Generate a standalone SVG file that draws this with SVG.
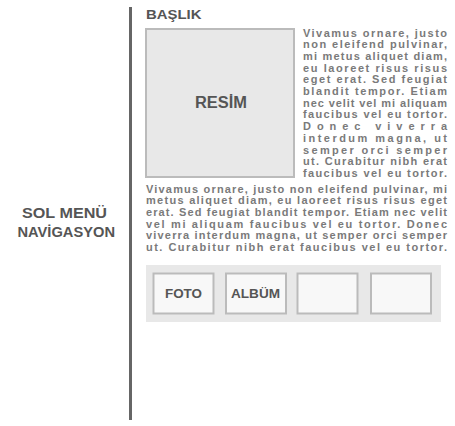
<svg xmlns="http://www.w3.org/2000/svg" width="455" height="426" viewBox="0 0 455 426">
<style>
.t{font-family:"Liberation Sans",Arial,sans-serif;font-weight:bold;fill:#555}
.b{font-family:"Liberation Sans",Arial,sans-serif;font-weight:bold;font-size:11px;fill:#7a7a7a}
.box{fill:#e8e8e8;stroke:#bbb;stroke-width:2}
.th{fill:#f8f8f8;stroke:#bbb;stroke-width:2}
</style>
<rect width="455" height="426" fill="#fff"/>
<g id="nav">
<text class="t" font-size="14" x="22" y="218" textLength="85" lengthAdjust="spacingAndGlyphs">SOL MENÜ</text>
<text class="t" font-size="14" x="17.5" y="237" textLength="97.5" lengthAdjust="spacingAndGlyphs">NAVİGASYON</text>
</g>
<g id="divider"><rect x="129" y="7" width="3" height="413" fill="#666"/></g>
<g id="title"><text class="t" font-size="13" x="146" y="19" textLength="55.5" lengthAdjust="spacingAndGlyphs">BAŞLIK</text></g>
<g id="image">
<rect class="box" x="146" y="29" width="148" height="148"/>
<text class="t" font-size="16" x="195" y="108" textLength="52" lengthAdjust="spacingAndGlyphs">RESİM</text>
</g>
<g id="sidetext" class="b">
<text x="303" y="36.5" textLength="144" lengthAdjust="spacing">Vivamus ornare, justo</text>
<text x="303" y="48.2" textLength="144" lengthAdjust="spacing">non eleifend pulvinar,</text>
<text x="303" y="59.9" textLength="144" lengthAdjust="spacing">mi metus aliquet diam,</text>
<text x="303" y="71.6" textLength="144" lengthAdjust="spacing">eu laoreet risus risus</text>
<text x="303" y="83.3" textLength="144" lengthAdjust="spacing">eget erat. Sed feugiat</text>
<text x="303" y="95" textLength="144" lengthAdjust="spacing">blandit tempor. Etiam</text>
<text x="303" y="106.7" textLength="144" lengthAdjust="spacing">nec velit vel mi aliquam</text>
<text x="303" y="118.4" textLength="144" lengthAdjust="spacing">faucibus vel eu tortor.</text>
<text x="303" y="130.1" textLength="144" lengthAdjust="spacing">Donec viverra</text>
<text x="303" y="141.8" textLength="144" lengthAdjust="spacing">interdum magna, ut</text>
<text x="303" y="153.5" textLength="144" lengthAdjust="spacing">semper orci semper</text>
<text x="303" y="165.2" textLength="144" lengthAdjust="spacing">ut. Curabitur nibh erat</text>
<text x="303" y="176.9" textLength="144" lengthAdjust="spacing">faucibus vel eu tortor.</text>
</g>
<g id="bodytext" class="b">
<text x="146" y="192.5" textLength="301" lengthAdjust="spacing">Vivamus ornare, justo non eleifend pulvinar, mi</text>
<text x="146" y="204.2" textLength="301" lengthAdjust="spacing">metus aliquet diam, eu laoreet risus risus eget</text>
<text x="146" y="215.9" textLength="301" lengthAdjust="spacing">erat. Sed feugiat blandit tempor. Etiam nec velit</text>
<text x="146" y="227.6" textLength="301" lengthAdjust="spacing">vel mi aliquam faucibus vel eu tortor. Donec</text>
<text x="146" y="239.3" textLength="301" lengthAdjust="spacing">viverra interdum magna, ut semper orci semper</text>
<text x="146" y="251" textLength="301" lengthAdjust="spacing">ut. Curabitur nibh erat faucibus vel eu tortor.</text>
</g>
<g id="gallery">
<rect x="146" y="265" width="295" height="57" fill="#e8e8e8"/>
</g>
<g id="foto"><rect class="th" x="153.5" y="273.5" width="60" height="40"/><text class="t" font-size="12.5" x="165" y="297.5" textLength="37" lengthAdjust="spacingAndGlyphs">FOTO</text></g>
<g id="album"><rect class="th" x="226" y="273.5" width="60" height="40"/><text class="t" font-size="12.5" x="231" y="297.5" textLength="49" lengthAdjust="spacingAndGlyphs">ALBÜM</text></g>
<g id="thumb3"><rect class="th" x="297.5" y="273.5" width="60" height="40"/></g>
<g id="thumb4"><rect class="th" x="371" y="273.5" width="60" height="40"/></g>
</svg>
